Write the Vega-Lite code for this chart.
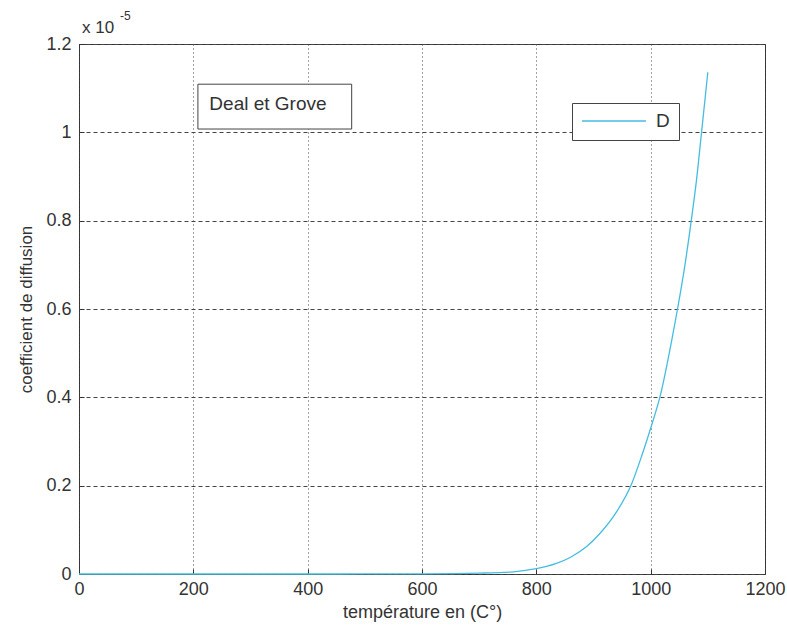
{
  "$schema": "https://vega.github.io/schema/vega-lite/v6.json",
  "autosize": {"type": "none"},
  "width": 686,
  "height": 530,
  "padding": {"left": 79, "top": 44, "right": 22, "bottom": 57},
  "background": "white",
  "config": {
    "font": "Liberation Sans",
    "view": {"stroke": "#333", "strokeWidth": 1},
    "axis": {
      "labelFont": "Liberation Sans",
      "titleFont": "Liberation Sans",
      "labelColor": "#333",
      "titleColor": "#333",
      "titleFontWeight": "normal",
      "domain": false,
      "ticks": true,
      "tickColor": "#333",
      "tickSize": -5,
      "gridColor": "#444",
      "gridWidth": 1,
      "gridOpacity": 1
    }
  },
  "datasets": {
    "curve": [
      {"T": 0, "D": 0, "serie": "D"},
      {"T": 100, "D": 0, "serie": "D"},
      {"T": 200, "D": 0, "serie": "D"},
      {"T": 300, "D": 0, "serie": "D"},
      {"T": 400, "D": 0, "serie": "D"},
      {"T": 500, "D": 0.0001, "serie": "D"},
      {"T": 600, "D": 0.0004, "serie": "D"},
      {"T": 700, "D": 0.002, "serie": "D"},
      {"T": 760, "D": 0.005, "serie": "D"},
      {"T": 800, "D": 0.012, "serie": "D"},
      {"T": 835, "D": 0.024, "serie": "D"},
      {"T": 860, "D": 0.038, "serie": "D"},
      {"T": 888, "D": 0.062, "serie": "D"},
      {"T": 910, "D": 0.09, "serie": "D"},
      {"T": 940, "D": 0.14, "serie": "D"},
      {"T": 967, "D": 0.205, "serie": "D"},
      {"T": 985, "D": 0.27, "serie": "D"},
      {"T": 1000, "D": 0.33, "serie": "D"},
      {"T": 1018, "D": 0.41, "serie": "D"},
      {"T": 1037, "D": 0.53, "serie": "D"},
      {"T": 1047, "D": 0.6, "serie": "D"},
      {"T": 1060, "D": 0.7, "serie": "D"},
      {"T": 1071, "D": 0.8, "serie": "D"},
      {"T": 1080, "D": 0.89, "serie": "D"},
      {"T": 1089, "D": 1.0, "serie": "D"},
      {"T": 1100, "D": 1.136, "serie": "D"}
    ],
    "annotation": [
      {"label": "Deal et Grove"}
    ]
  },
  "layer": [
    {
      "data": {"name": "curve"},
      "mark": {"type": "line", "strokeWidth": 1.3, "interpolate": "monotone"},
      "encoding": {
        "x": {
          "field": "T", "type": "quantitative",
          "scale": {"domain": [0, 1200], "nice": false, "zero": false},
          "axis": {
            "values": [0, 200, 400, 600, 800, 1000, 1200],
            "format": "d",
            "title": "température en (C°)",
            "titleFontSize": 18,
            "titlePadding": 5,
            "labelFontSize": 18,
            "labelPadding": 11,
            "labelFlush": false,
            "gridDash": [1, 3]
          }
        },
        "y": {
          "field": "D", "type": "quantitative",
          "scale": {"domain": [0, 1.2], "nice": false},
          "axis": {
            "values": [0, 0.2, 0.4, 0.6, 0.8, 1, 1.2],
            "format": "~g",
            "title": "coefficient de diffusion",
            "titleFontSize": 17,
            "titlePadding": 10,
            "labelFontSize": 18,
            "labelPadding": 13,
            "labelFlush": false,
            "gridDash": [4, 3]
          }
        },
        "color": {
          "field": "serie", "type": "nominal",
          "scale": {"domain": ["D"], "range": ["#45bde0"]},
          "legend": {
            "orient": "none",
            "legendX": 493,
            "legendY": 59,
            "title": null,
            "symbolType": "stroke",
            "symbolSize": 4096,
            "symbolStrokeWidth": 1.3,
            "clipHeight": 18,
            "labelFont": "Liberation Sans",
            "labelFontSize": 19,
            "labelColor": "#333",
            "labelOffset": 9,
            "padding": 9,
            "strokeColor": "#444",
            "fillColor": "white"
          }
        }
      }
    },
    {
      "data": {"name": "annotation"},
      "mark": {"type": "rect", "fill": "white", "stroke": "#444", "strokeWidth": 1},
      "encoding": {
        "x": {"datum": 208, "type": "quantitative"},
        "x2": {"datum": 477},
        "y": {"datum": 1.109, "type": "quantitative"},
        "y2": {"datum": 1.0075}
      }
    },
    {
      "data": {"name": "annotation"},
      "mark": {"type": "text", "align": "left", "baseline": "alphabetic", "fontSize": 19, "font": "Liberation Sans", "color": "#333"},
      "encoding": {
        "x": {"datum": 228, "type": "quantitative"},
        "y": {"datum": 1.05, "type": "quantitative"},
        "text": {"field": "label"}
      }
    },
    {
      "data": {"name": "annotation"},
      "mark": {"type": "text", "align": "left", "baseline": "alphabetic", "fontSize": 17, "font": "Liberation Sans", "color": "#333", "dx": 3, "dy": -11},
      "encoding": {
        "x": {"datum": 0, "type": "quantitative"},
        "y": {"datum": 1.2, "type": "quantitative"},
        "text": {"value": "x 10"}
      }
    },
    {
      "data": {"name": "annotation"},
      "mark": {"type": "text", "align": "left", "baseline": "alphabetic", "fontSize": 12, "font": "Liberation Sans", "color": "#333", "dx": 41, "dy": -24},
      "encoding": {
        "x": {"datum": 0, "type": "quantitative"},
        "y": {"datum": 1.2, "type": "quantitative"},
        "text": {"value": "-5"}
      }
    }
  ]
}
